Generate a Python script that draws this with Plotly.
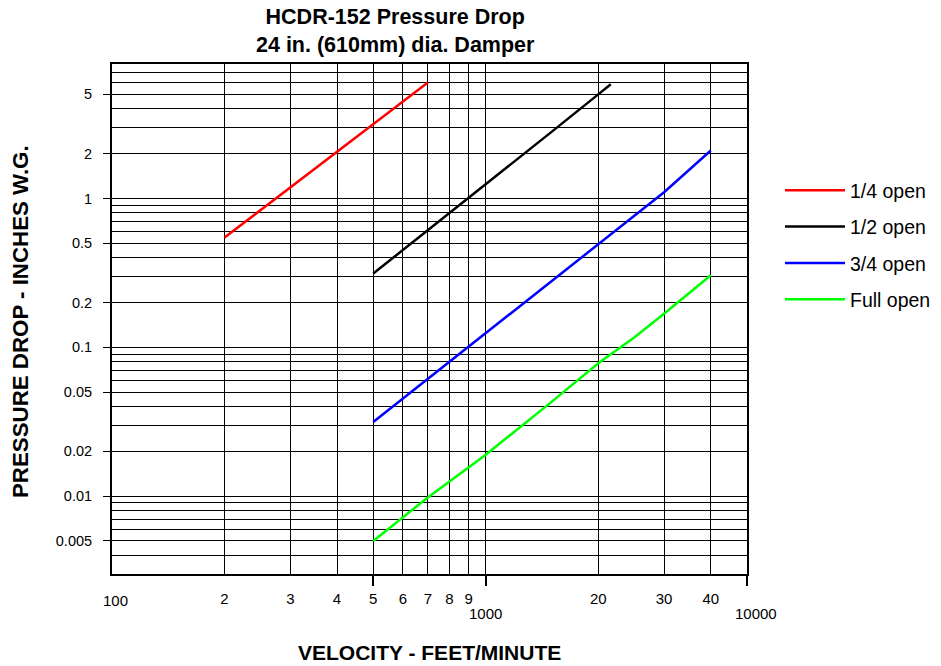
import plotly.graph_objects as go

# ---- data ----
v_quarter = [200, 300, 400, 500, 600, 700]
p_quarter = [0.546, 1.19, 2.06, 3.17, 4.47, 6.0]

v_half = [500, 700, 1000, 1500, 2000, 2160]
p_half = [0.313, 0.61, 1.25, 2.8, 5.0, 5.85]

v_three = [500, 1000, 2000, 3000, 4000]
p_three = [0.0315, 0.124, 0.49, 1.1, 2.1]

v_full = [500, 700, 1000, 1500, 2000, 2500, 3000, 4000]
p_full = [0.005, 0.0098, 0.019, 0.043, 0.078, 0.117, 0.168, 0.305]

series_names = ["1/4 open", "1/2 open", "3/4 open", "Full open"]
series_colors = ["#ff0000", "#000000", "#0000ff", "#00ff00"]

x_grid_vals = [200, 300, 400, 500, 600, 700, 800, 900, 1000, 2000, 3000, 4000]
x_grid_text = ["2", "3", "4", "5", "6", "7", "8", "9", "", "20", "30", "40"]
x_tick_marks = [500, 1000, 5000]

y_label_vals = [0.005, 0.01, 0.02, 0.05, 0.1, 0.2, 0.5, 1, 2, 5]
y_label_text = ["0.005", "0.01", "0.02", "0.05", "0.1", "0.2", "0.5", "1", "2", "5"]
y_minor_vals = [0.004, 0.006, 0.007, 0.008, 0.009,
                0.03, 0.04, 0.06, 0.07, 0.08, 0.09,
                0.3, 0.4, 0.6, 0.7, 0.8, 0.9,
                3, 4, 6, 7]

FONT = "Liberation Sans, Arial, sans-serif"

fig = go.Figure()
for v, p, name, col in zip([v_quarter, v_half, v_three, v_full],
                           [p_quarter, p_half, p_three, p_full],
                           series_names, series_colors):
    fig.add_trace(go.Scatter(x=v, y=p, mode="lines", name=name, legendgroup=name,
                             line=dict(color=col, width=2.5)))

fig.update_layout(
    width=941, height=666,
    margin=dict(l=112, r=194, t=64, b=92),
    paper_bgcolor="white", plot_bgcolor="white",
    font=dict(family=FONT, color="black", size=15),
    showlegend=True,
    legend=dict(xref="container", yref="container",
                x=0.8289, y=0.7432, xanchor="left", yanchor="top",
                font=dict(size=19.5, family=FONT), itemwidth=60,
                tracegroupgap=8, bgcolor="rgba(0,0,0,0)"),
)

fig.update_xaxes(
    type="log", range=[2, 3.69897],
    tickmode="array", tickvals=x_grid_vals, ticktext=x_grid_text,
    ticks="outside", ticklen=10, tickcolor="rgba(0,0,0,0)",
    showgrid=True, gridcolor="black", gridwidth=1,
    showline=True, linecolor="black", linewidth=2, mirror=True,
    tickfont=dict(size=15),
    minor=dict(tickmode="array", tickvals=x_tick_marks, ticks="outside",
               ticklen=10, tickwidth=2, tickcolor="black", showgrid=False),
    zeroline=False,
)

fig.update_yaxes(
    type="log", range=[-2.5229, 0.90309],
    tickmode="array", tickvals=y_label_vals, ticktext=y_label_text,
    ticks="outside", ticklen=7, tickwidth=1, tickcolor="black",
    ticklabelstandoff=8,
    showgrid=True, gridcolor="black", gridwidth=1,
    showline=True, linecolor="black", linewidth=2, mirror=True,
    tickfont=dict(size=14.5),
    minor=dict(tickmode="array", tickvals=y_minor_vals, ticks="",
               showgrid=True, gridcolor="black", gridwidth=1),
    zeroline=False,
)

annotations = [
    dict(text="<b>HCDR-152 Pressure Drop<br>24 in. (610mm) dia. Damper</b>",
         xref="paper", yref="paper", x=0.4457, y=1, yanchor="bottom", yshift=5,
         xanchor="center", showarrow=False, font=dict(size=21.5, family=FONT)),
    dict(text="<b>VELOCITY - FEET/MINUTE</b>", xref="paper", yref="paper",
         x=0.5, y=-0.153, xanchor="center", yanchor="middle", showarrow=False,
         font=dict(size=21, family=FONT)),
    dict(text="<b>PRESSURE DROP - INCHES W.G.</b>", xref="paper", yref="paper",
         x=-0.1449, y=0.496, textangle=-90, xanchor="center", yanchor="middle",
         showarrow=False, font=dict(size=22.3, family=FONT)),
    dict(text="100", xref="paper", yref="paper", x=0, y=-0.0510, yanchor="middle",
         xanchor="center", xshift=3, showarrow=False, font=dict(size=15, family=FONT)),
    dict(text="1000", xref="x", yref="paper", x=3, y=-0.0765, yanchor="middle",
         xanchor="center", showarrow=False, font=dict(size=15, family=FONT)),
    dict(text="10000", xref="paper", yref="paper", x=1, y=-0.0765, yanchor="middle",
         xanchor="center", xshift=9, showarrow=False, font=dict(size=15, family=FONT)),
]
fig.update_layout(annotations=annotations)

fig.write_html("out.html", config={"displayModeBar": False},
               post_script="document.body.style.margin='0';")
